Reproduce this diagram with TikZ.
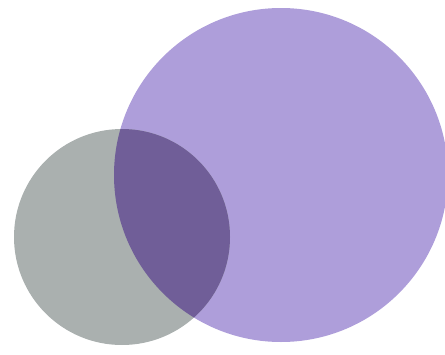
\documentclass[tikz,border=0pt]{standalone}
\usepackage{tikz}
\usetikzlibrary{calc}
\definecolor{discpurple}{RGB}{174,158,218}
\definecolor{discgray}{RGB}{170,176,175}
\definecolor{overlap}{RGB}{112,94,152}

\begin{document}
\begin{tikzpicture}[x=1pt, y=-1pt,
    bigdisc/.style={
            fill=discpurple,
            draw=none
        },
        smalldisc/.style={
            fill=discgray,
            draw=none
        },
        mixdisc/.style={fill=overlap, draw=none}
]
    \useasboundingbox (0,0) rectangle (445,354);

    % big purple disc and small gray disc
    \fill [bigdisc] (281,175) circle [radius=167];
    \fill [smalldisc] (122,237) circle [radius=108];

    % where the two meet
    \begin{scope}
        \clip (281,175) circle [radius=167];
        \fill [mixdisc] (122,237) circle [radius=108];
    \end{scope}
\end{tikzpicture}
\end{document}
